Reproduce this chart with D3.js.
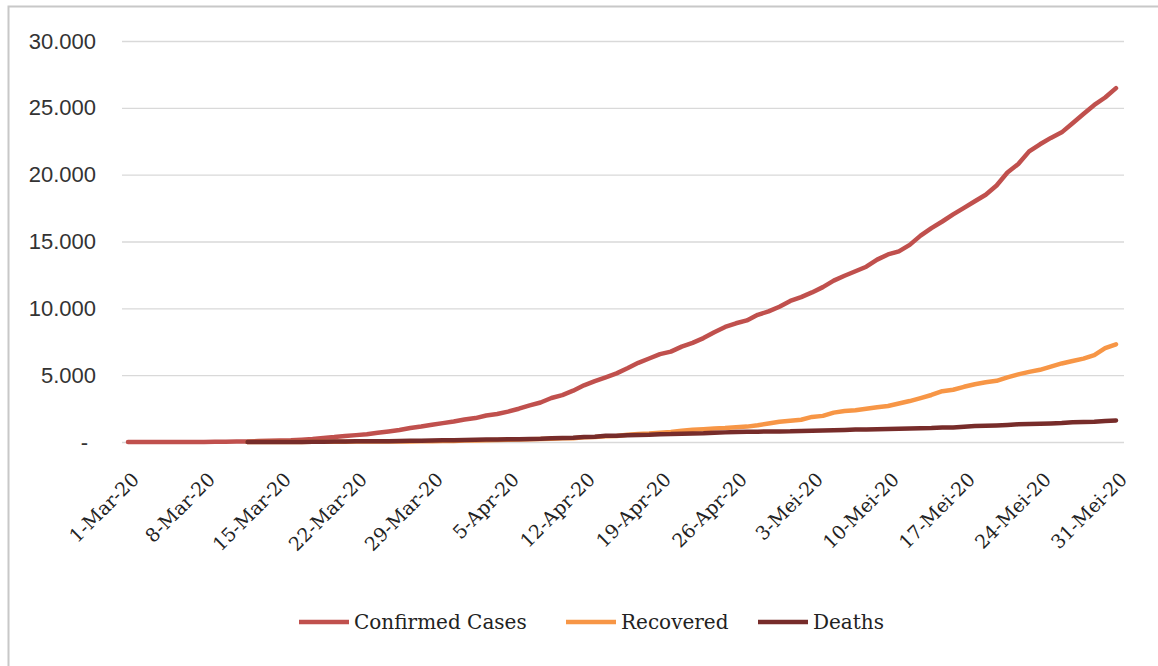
<!DOCTYPE html>
<html>
<head>
<meta charset="utf-8">
<script src="https://cdn.jsdelivr.net/npm/d3@7"></script>
<style>
  body { margin: 0; background: #fff; }
  svg { display: block; }
</style>
</head>
<body>
<svg width="1158" height="666"></svg>
<script>
// Daily cumulative figures, 1 Mar 2020 - 31 Mei 2020
var startDate = new Date(2020, 2, 1);

var confirmed = [
  0, 2, 2, 2, 2, 4, 4, 6, 19, 27, 34, 34, 69, 96, 117, 134, 172, 227, 309, 369,
  450, 514, 579, 686, 790, 893, 1046, 1155, 1285, 1414, 1528,
  1677, 1790, 1986, 2092, 2273, 2491, 2738, 2956, 3293, 3512, 3842, 4241, 4557, 4839, 5136,
  5516, 5923, 6248, 6575, 6760, 7135, 7418, 7775, 8211, 8607, 8882, 9096, 9511, 9771, 10118,
  10551, 10843, 11192, 11587, 12071, 12438, 12776, 13112, 13645, 14032, 14265, 14749, 15438,
  16006, 16496, 17025, 17514, 18010, 18496, 19189, 20162, 20796, 21745, 22271, 22750, 23165,
  23851, 24538, 25216, 25773, 26473
];

// recovered and deaths start on 12 Mar (day index 11)
var laterStart = 11;

var recovered = [
  3, 5, 8, 8, 8, 9, 11, 15, 16, 20, 29, 30, 30, 31, 35, 46, 59, 64, 75, 81,
  103, 112, 134, 150, 164, 192, 204, 222, 252, 282, 286, 359, 380, 426, 446,
  548, 607, 631, 686, 747, 842, 913, 960, 1002, 1042, 1107, 1151, 1254, 1391, 1522,
  1591, 1665, 1876, 1954, 2197, 2317, 2381, 2494, 2607, 2698, 2881, 3063, 3287, 3518,
  3803, 3911, 4129, 4324, 4467, 4575, 4838, 5057, 5249, 5402, 5642, 5877, 6057, 6240,
  6492, 7015, 7308
];

var deaths = [
  1, 4, 5, 5, 5, 5, 19, 25, 32, 38, 48, 49, 55, 58, 78, 87, 102, 114, 122, 136,
  157, 170, 181, 191, 198, 209, 221, 240, 280, 306, 327, 373, 399, 459, 469,
  496, 520, 535, 582, 590, 616, 635, 647, 689, 720, 743, 765, 773, 784, 792,
  800, 831, 845, 864, 872, 895, 930, 943, 959, 973, 991, 1007, 1028, 1043, 1076,
  1089, 1148, 1191, 1221, 1242, 1278, 1326, 1351, 1372, 1391, 1418, 1473, 1496,
  1520, 1573, 1613
];

var seriesNames = ["Confirmed Cases", "Recovered", "Deaths"];
var seriesColors = ["#C0504D", "#F79646", "#772C2A"];

var yTicks = [0, 5000, 10000, 15000, 20000, 25000, 30000];
var xTickLabels = [
  "1-Mar-20", "8-Mar-20", "15-Mar-20", "22-Mar-20", "29-Mar-20",
  "5-Apr-20", "12-Apr-20", "19-Apr-20", "26-Apr-20",
  "3-Mei-20", "10-Mei-20", "17-Mei-20", "24-Mei-20", "31-Mei-20"
];

var svg = d3.select("svg");

function dayToDate(i) {
  return d3.timeDay.offset(startDate, i);
}

function toPoints(values, offset) {
  return values.map(function(v, i) { return { date: dayToDate(i + offset), value: v }; });
}

var series = [
  toPoints(confirmed, 0),
  toPoints(recovered, laterStart),
  toPoints(deaths, laterStart)
];

// outer chart frame (runs off the right and bottom of the picture)
svg.append("rect")
   .attr("x", 8.5).attr("y", 6.5)
   .attr("width", 1200).attr("height", 700)
   .attr("fill", "none")
   .attr("stroke", "#c8c8c8")
   .attr("stroke-width", 2);

var x = d3.scaleTime()
          .domain([startDate, dayToDate(confirmed.length - 1)])
          .range([128, 1116]);

var y = d3.scaleLinear()
          .domain([0, 30000])
          .range([442, 41]);

var locale = d3.formatLocale({ decimal: ",", thousands: ".", grouping: [3], currency: ["", ""] });
var fmt = locale.format(",.0f");

// gridlines + y labels
var yAxis = d3.axisLeft(y)
              .tickValues(yTicks)
              .tickSize(-(1124 - 122))
              .tickPadding(26)
              .tickFormat(function(d) { return d === 0 ? "-" : fmt(d); });

var gy = svg.append("g")
            .attr("transform", "translate(122,0)")
            .call(yAxis);
gy.select(".domain").remove();
gy.selectAll(".tick line").attr("stroke", "#d9d9d9").attr("stroke-width", 1.3);
gy.selectAll(".tick text")
  .attr("font-family", "'Liberation Sans', Arial, sans-serif")
  .attr("font-size", 22)
  .attr("fill", "#333");
gy.selectAll(".tick text").filter(function(d) { return d === 0; }).attr("dx", -8);

// x labels, rotated
var xTickDates = xTickLabels.map(function(d, i) { return dayToDate(i * 7); });
var xAxis = d3.axisBottom(x)
              .tickValues(xTickDates)
              .tickSize(0)
              .tickFormat(function(d, i) { return xTickLabels[i]; });

var gx = svg.append("g")
            .attr("transform", "translate(0,442)")
            .call(xAxis);
gx.select(".domain").remove();
gx.selectAll(".tick text")
  .attr("font-family", "'DejaVu Serif', serif")
  .attr("font-size", 19)
  .attr("fill", "#222")
  .attr("text-anchor", "end")
  .attr("dy", "0.35em")
  .attr("y", 0)
  .attr("transform", "translate(7,34) rotate(-45)");

// lines
var line = d3.line()
             .x(function(d) { return x(d.date); })
             .y(function(d) { return y(d.value); });

svg.append("g")
   .selectAll("path")
   .data(series)
   .enter()
   .append("path")
   .attr("d", line)
   .attr("fill", "none")
   .attr("stroke", function(d, i) { return seriesColors[i]; })
   .attr("stroke-width", 4.5)
   .attr("stroke-linejoin", "round")
   .attr("stroke-linecap", "round");

// legend
var legendX = [299, 566, 758];
var legend = svg.append("g")
                .selectAll("g")
                .data(seriesNames)
                .enter()
                .append("g")
                .attr("transform", function(d, i) { return "translate(" + legendX[i] + ",622)"; });

legend.append("line")
      .attr("x1", 0).attr("x2", 50)
      .attr("stroke", function(d, i) { return seriesColors[i]; })
      .attr("stroke-width", 4.5);

legend.append("text")
      .attr("x", 55)
      .attr("dy", "0.35em")
      .attr("font-family", "'DejaVu Serif', serif")
      .attr("font-size", 20)
      .attr("fill", "#222")
      .text(function(d) { return d; });
</script>
</body>
</html>
